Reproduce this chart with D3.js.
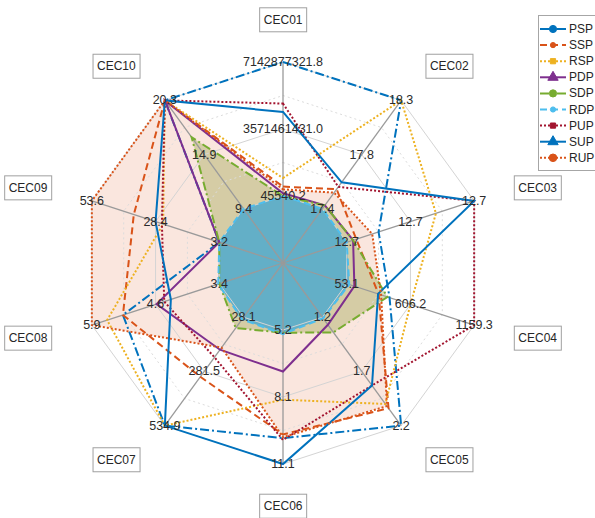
<!DOCTYPE html>
<html>
<head>
<meta charset="utf-8">
<script src="https://cdn.jsdelivr.net/npm/d3@7"></script>
<style>
  html, body { margin: 0; padding: 0; background: #fff; }
  svg { display: block; font-family: "Liberation Sans", Arial, sans-serif; }
</style>
</head>
<body>
<svg id="chart" width="595" height="518"></svg>
<script>
// Axis categories and the range each axis spans (min sits on the inner ring, max on the outer ring)
const categories = ["CEC01", "CEC02", "CEC03", "CEC04", "CEC05", "CEC06", "CEC07", "CEC08", "CEC09", "CEC10"];
const axisMin = [45540.2, 17.37, 12.70, 53.1, 1.2, 5.18, 28.1, 3.38, 3.2, 9.42];
const axisMax = [7142877321.8, 18.31, 12.74, 1159.3, 2.2, 11.08, 534.9, 5.88, 53.6, 20.34];

// Series values, one per axis
const PSP = [7142877321.8, 18.31, 12.710, 424.8, 2.2, 9.94, 534.9, 5.27, 3.2, 20.34];
const SSP = [500000000, 17.54, 12.703, 329.7, 2.04, 9.78, 306.8, 5.27, 37.0, 20.34];
const RSP = [957000000, 18.31, 12.728, 606.2, 2.0, 8.25, 534.9, 5.58, 25.4, 20.34];
const PDP = [143000000, 17.40, 12.702, 119.5, 1.27, 7.01, 180.1, 4.61, 3.2, 20.30];
const SDP = [45540.2, 17.40, 12.702, 407.1, 1.34, 5.30, 78.8, 3.38, 3.2, 16.63];
const RDP = [45540.2, 17.37, 12.700, 75.2, 1.21, 5.36, 38.2, 3.40, 3.2, 9.42];
const PUP = [4928600000, 17.56, 12.74, 1159.3, 1.83, 10.02, 215.6, 4.46, 25.9, 20.34];
const SUP = [4478500000, 17.60, 12.74, 325.2, 1.83, 11.08, 534.9, 4.33, 28.4, 20.34];
const RUP = [357000000, 17.51, 12.708, 351.8, 2.02, 9.90, 170.0, 5.88, 53.6, 20.34];

const seriesNames = ["PSP", "SSP", "RSP", "PDP", "SDP", "RDP", "PUP", "SUP", "RUP"];
const seriesValues = [PSP, SSP, RSP, PDP, SDP, RDP, PUP, SUP, RUP];

// Line styles per series
const styles = {
  PSP: { color: "#0072BD", dash: "9,3,2,3", marker: "circle", ms: 3.6 },
  SSP: { color: "#D95319", dash: "7,4", marker: "circle", ms: 2.6 },
  RSP: { color: "#EDB120", dash: "2,2", marker: "square", ms: 2.6 },
  PDP: { color: "#7E2F8E", dash: null, marker: "triangle", ms: 4.6 },
  SDP: { color: "#77AC30", dash: "9,3,2,3", marker: "circle", ms: 3.6 },
  RDP: { color: "#4DBEEE", dash: "7,4", marker: "circle", ms: 2.6 },
  PUP: { color: "#A2142F", dash: "2,2", marker: "square", ms: 2.6 },
  SUP: { color: "#0072BD", dash: null, marker: "triangle", ms: 4.6 },
  RUP: { color: "#D95319", dash: "2,2", marker: "circle", ms: 3.8 }
};
// Filled series, drawn back to front
const fills = [
  { name: "RUP", color: "#E8825A", opacity: 0.2 },
  { name: "SDP", color: "#8E9A3C", opacity: 0.35 },
  { name: "RDP", color: "#4FA9CC", opacity: 0.85 }
];

const svg = d3.select("#chart");
const cx = 283, cy = 263, R = 201;
const n = categories.length;
const angle = i => i * 2 * Math.PI / n;
const pt = (i, r) => [cx + r * Math.sin(angle(i)), cy - r * Math.cos(angle(i))];

// One radial scale per axis; the data minimum is offset to a third of the radius
const scales = categories.map((c, i) =>
  d3.scaleLinear().domain([axisMin[i], axisMax[i]]).range([R / 3, R]));

const lineGen = d3.line().curve(d3.curveLinearClosed);
const seriesPoints = vals => vals.map((v, i) => pt(i, scales[i](v)));

// Fills
const gFill = svg.append("g");
fills.forEach(f => {
  const vals = seriesValues[seriesNames.indexOf(f.name)];
  gFill.append("path")
    .attr("d", lineGen(seriesPoints(vals)))
    .attr("fill", f.color)
    .attr("fill-opacity", f.opacity)
    .attr("stroke", "none");
});

// Web rings
const gGrid = svg.append("g");
d3.range(2, 7).forEach(k => {
  const r = R * k / 6;
  const ring = d3.range(n).map(i => pt(i, r));
  gGrid.append("path")
    .attr("d", lineGen(ring))
    .attr("fill", "none")
    .attr("stroke", k % 2 === 0 ? "#d4d4d4" : "#dcdcdc")
    .attr("stroke-width", 1)
    .attr("stroke-dasharray", k % 2 === 0 ? null : "2,3");
});
// Spokes
d3.range(n).forEach(i => {
  const [x, y] = pt(i, R);
  gGrid.append("line")
    .attr("x1", cx).attr("y1", cy).attr("x2", x).attr("y2", y)
    .attr("stroke", "#9a9a9a").attr("stroke-width", 1.3);
});

// Series lines
const gLines = svg.append("g");
seriesNames.forEach((name, s) => {
  const st = styles[name];
  gLines.append("path")
    .attr("d", lineGen(seriesPoints(seriesValues[s])))
    .attr("fill", "none")
    .attr("stroke", st.color)
    .attr("stroke-width", 2)
    .attr("stroke-linejoin", "miter")
    .attr("stroke-dasharray", st.dash);
});

// Axis value labels: min, mid and max of each axis
const fmt = d3.format(".1f");
const gTicks = svg.append("g");
categories.forEach((c, i) => {
  const lo = axisMin[i], hi = axisMax[i];
  [lo, (lo + hi) / 2, hi].forEach(v => {
    const [x, y] = pt(i, scales[i](v));
    gTicks.append("text")
      .attr("x", x).attr("y", y)
      .attr("text-anchor", "middle")
      .attr("dominant-baseline", "central")
      .attr("font-size", 12.5)
      .attr("fill", "#2b2b2b")
      .text(fmt(v));
  });
});

// Category labels in boxes
const gCats = svg.append("g");
categories.forEach((c, i) => {
  const [x, y] = pt(i, R * 1.21);
  const s = Math.sin(angle(i));
  const anchor = Math.abs(s) < 0.1 ? "middle" : (s > 0 ? "start" : "end");
  const g = gCats.append("g");
  const t = g.append("text")
    .attr("x", x).attr("y", y)
    .attr("text-anchor", anchor)
    .attr("dominant-baseline", "central")
    .attr("font-size", 12)
    .attr("fill", "#262626")
    .text(c);
  const bb = t.node().getBBox();
  const padX = 4, boxH = 24;
  let bx = bb.x - padX;
  if (anchor === "start") bx = x;
  if (anchor === "end") bx = x - bb.width - 2 * padX;
  t.attr("x", bx + padX + (anchor === "middle" ? bb.width / 2 : 0))
   .attr("text-anchor", anchor === "middle" ? "middle" : "start");
  g.insert("rect", "text")
    .attr("x", bx).attr("y", y - boxH / 2)
    .attr("width", bb.width + 2 * padX).attr("height", boxH)
    .attr("fill", "#fff").attr("stroke", "#a0a0a0").attr("stroke-width", 1);
});

// Legend
const lg = svg.append("g");
lg.append("rect")
  .attr("x", 538.5).attr("y", 15.5).attr("width", 70).attr("height", 155)
  .attr("fill", "#fff").attr("stroke", "#a6a6a6").attr("stroke-width", 1);
const symbol = (m, size) => {
  if (m === "circle") return d3.symbol(d3.symbolCircle, Math.PI * size * size)();
  if (m === "square") return d3.symbol(d3.symbolSquare, 4 * size * size)();
  return d3.symbol(d3.symbolTriangle, 2.2 * size * size)();
};
seriesNames.forEach((name, s) => {
  const st = styles[name];
  const y = 29 + s * 16.1;
  lg.append("line")
    .attr("x1", 540).attr("x2", 566).attr("y1", y).attr("y2", y)
    .attr("stroke", st.color).attr("stroke-width", 2)
    .attr("stroke-dasharray", st.dash);
  lg.append("path")
    .attr("transform", `translate(553,${y})`)
    .attr("d", symbol(st.marker, st.ms))
    .attr("fill", st.color).attr("stroke", st.color);
  lg.append("text")
    .attr("x", 569).attr("y", y)
    .attr("dominant-baseline", "central")
    .attr("font-size", 12)
    .attr("fill", "#262626")
    .text(name);
});
</script>
</body>
</html>
